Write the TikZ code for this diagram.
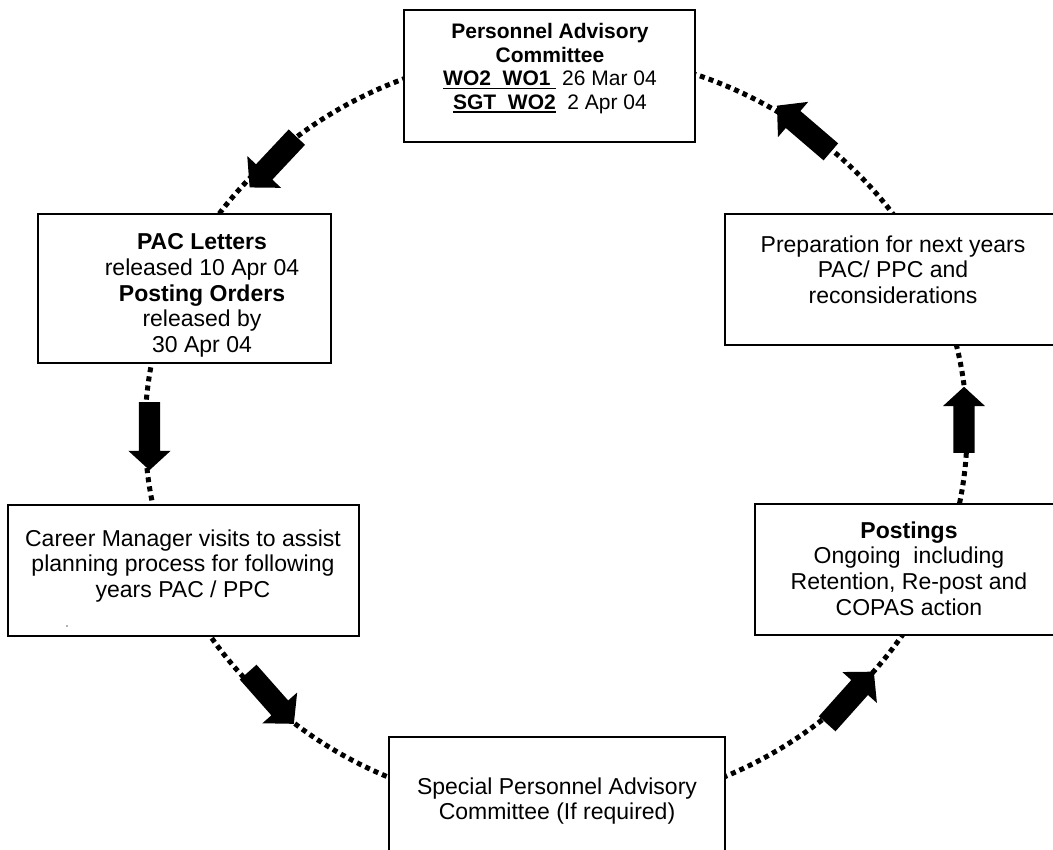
\documentclass[tikz,border=0pt]{standalone}
\usepackage{fontspec}
\setmainfont{Liberation Sans}
\usetikzlibrary{shapes.arrows}
\newcommand\ulbox[1]{\setbox0\hbox{#1}\rlap{\rule[-3.5pt]{\wd0}{1.6pt}}\box0}
\newcommand\fa{\fontsize{23}{25.7}\selectfont}
\newcommand\fb{\fontsize{21}{23.5}\selectfont}
\begin{document}
\begin{tikzpicture}[x=1pt,y=-1pt,
  box/.style={draw=black, line width=1.3pt, fill=white, inner sep=0pt},
  txt/.style={anchor=north, align=center, inner sep=0pt, font=\fa},
  flow/.style={line width=5pt, dash pattern=on 5pt off 4.2pt},
  blockarrow/.style={single arrow, fill=black, draw=none, inner xsep=0pt,
    inner ysep=10.5pt, single arrow head extend=10.5pt,
    single arrow tip angle=95,
    minimum height=#1, anchor=tail},
  blockarrow/.default=68pt,
  diag/.style={inner ysep=11pt, single arrow head extend=12pt}]
\clip (0,0) rectangle (1053,850);
% cycle path
\coordinate (cyc) at (556,431);
\draw[flow] (cyc) ellipse [x radius=411pt, y radius=379pt];
% boxes
\node[box, minimum width=291pt, minimum height=132pt] (pac) at (549.5,76) {};
\node[box, minimum width=293pt, minimum height=149pt] (letters) at (184.5,288.5) {};
\node[box, minimum width=351pt, minimum height=131pt] (career) at (183.5,570.5) {};
\node[box, minimum width=336pt, minimum height=140pt] (special) at (557,807) {};
\node[box, minimum width=308pt, minimum height=131pt] (postings) at (909,569.5) {};
\node[box, minimum width=336pt, minimum height=131pt] (prep) at (893,279.5) {};
% texts
\node[txt, font=\fb] (pact) at (550,23.5) {\textbf{Personnel Advisory}\\\textbf{Committee}\\\ulbox{\textbf{WO2\ \ WO1\ }}\ 26 Mar 04\\\ulbox{\textbf{SGT\ \ WO2}}\ \ 2 Apr 04};
\node[txt] (letterst) at (202,233.4) {\textbf{PAC Letters}\\released 10 Apr 04\\\textbf{Posting Orders}\\released by\\30 Apr 04};
\node[txt] (careert) at (183,529.4) {Career Manager visits to assist\\planning process for following\\years PAC / PPC};
\node[txt] (specialt) at (557,777.4) {Special Personnel Advisory\\Committee (If required)};
\node[txt] (postingst) at (909,521.4) {\textbf{Postings}\\Ongoing\ \ including\\Retention, Re-post and\\COPAS action};
\node[txt] (prept) at (893,235.4) {Preparation for next years\\PAC/ PPC and\\reconsiderations};
\fill[black!60] (67,626) circle (0.8pt);
% block arrows
\node[blockarrow=69pt, diag, rotate=226.8] (a1) at (297,137) {};
\node[blockarrow=68pt, rotate=270] (a2) at (149.5,402) {};
\node[blockarrow=69pt, diag, rotate=311.5] (a3) at (248,672) {};
\node[blockarrow=70pt, diag, rotate=48.2] (a4) at (827,724) {};
\node[blockarrow=66pt, rotate=90] (a5) at (964,453) {};
\node[blockarrow=71pt, diag, rotate=139.4] (a6) at (831,152) {};
\end{tikzpicture}
\end{document}
